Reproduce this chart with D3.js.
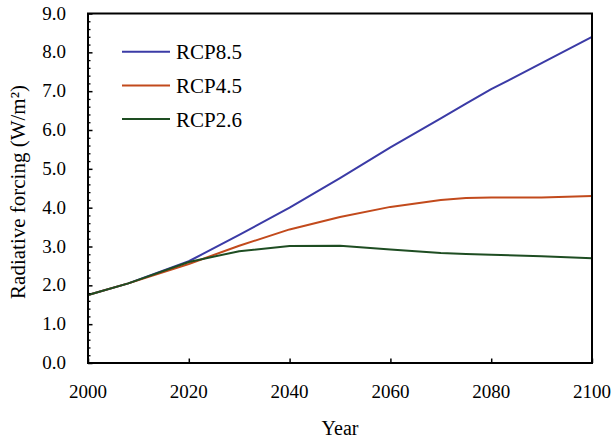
<!DOCTYPE html>
<html>
<head>
<meta charset="utf-8">
<script src="https://cdn.jsdelivr.net/npm/d3@7"></script>
<style>
  body { margin: 0; background: #fff; }
</style>
</head>
<body>
<figure id="chart" style="margin:0"></figure>
<script>
// data
const years = [2000, 2008, 2020, 2030, 2040, 2050, 2060, 2070, 2075, 2080, 2090, 2100];
const rcp85 = [1.75, 2.05, 2.62, 3.30, 4.00, 4.76, 5.55, 6.30, 6.68, 7.05, 7.72, 8.40];
const rcp45 = [1.75, 2.05, 2.55, 3.02, 3.44, 3.76, 4.02, 4.20, 4.25, 4.26, 4.26, 4.30];
const rcp26 = [1.75, 2.05, 2.60, 2.88, 3.01, 3.02, 2.92, 2.83, 2.81, 2.79, 2.75, 2.70];
const seriesNames = ['RCP8.5', 'RCP4.5', 'RCP2.6'];
const seriesColors = ['#3b3ba6', '#c24a1c', '#1e4d22'];
const xTicks = [2000, 2020, 2040, 2060, 2080, 2100];
const yTicks = [0, 1, 2, 3, 4, 5, 6, 7, 8, 9];

const width = 614, height = 441;
const margin = { top: 13.5, right: 22, bottom: 78, left: 88 };
const serif = '"Liberation Serif", "Times New Roman", serif';

const svg = d3.select('#chart')
  .append('svg')
  .attr('width', width)
  .attr('height', height)
  .style('font-family', serif);

const x = d3.scaleLinear()
  .domain([2000, 2100])
  .range([margin.left, width - margin.right]);

const y = d3.scaleLinear()
  .domain([0, 9])
  .range([height - margin.bottom, margin.top]);

// lines
const line = d3.line()
  .x((d, i) => x(years[i]))
  .y(d => y(d));

[rcp85, rcp45, rcp26].forEach((vals, k) => {
  svg.append('path')
    .datum(vals)
    .attr('fill', 'none')
    .attr('stroke', seriesColors[k])
    .attr('stroke-width', 2)
    .attr('stroke-linejoin', 'round')
    .attr('d', line);
});

// y axis: major ticks + minor ticks, inward
const yMinor = d3.range(0, 9.001, 0.2).filter(v => Math.abs(v - Math.round(v)) > 0.01);
svg.append('g')
  .attr('transform', 'translate(' + margin.left + ',0)')
  .call(d3.axisRight(y).tickValues(yMinor).tickSize(2.5).tickFormat(''))
  .call(g => g.select('.domain').remove())
  .selectAll('line').attr('stroke-width', 1.3);

svg.append('g')
  .attr('transform', 'translate(' + margin.left + ',0)')
  .call(d3.axisRight(y).tickValues(yTicks).tickSize(4.5).tickFormat(''))
  .call(g => g.select('.domain').remove())
  .selectAll('line').attr('stroke-width', 1.5);

svg.append('g')
  .selectAll('text')
  .data(yTicks)
  .enter()
  .append('text')
  .attr('x', 66)
  .attr('y', d => y(d) + 6)
  .attr('text-anchor', 'end')
  .style('font-family', serif)
  .style('font-size', '19px')
  .text(d => d.toFixed(1));

// x axis ticks, inward
svg.append('g')
  .attr('transform', 'translate(0,' + (height - margin.bottom) + ')')
  .call(d3.axisTop(x).tickValues(xTicks).tickSize(4.5).tickFormat(''))
  .call(g => g.select('.domain').remove())
  .selectAll('line').attr('stroke-width', 1.5);

svg.append('g')
  .selectAll('text')
  .data(xTicks)
  .enter()
  .append('text')
  .attr('x', d => x(d))
  .attr('y', 398)
  .attr('text-anchor', 'middle')
  .style('font-family', serif)
  .style('font-size', '19px')
  .text(d => d);

// frame
svg.append('rect')
  .attr('x', margin.left)
  .attr('y', margin.top)
  .attr('width', width - margin.left - margin.right)
  .attr('height', height - margin.top - margin.bottom)
  .attr('fill', 'none')
  .attr('stroke', '#000')
  .attr('stroke-width', 2);

// axis titles
svg.append('text')
  .attr('x', x(2050))
  .attr('y', 435)
  .attr('text-anchor', 'middle')
  .style('font-family', serif)
  .style('font-size', '20px')
  .text('Year');

svg.append('text')
  .attr('transform', 'translate(25,' + 192 + ') rotate(-90)')
  .attr('text-anchor', 'middle')
  .style('font-family', serif)
  .style('font-size', '21px')
  .text('Radiative forcing (W/m²)');

// legend
const legend = svg.append('g');
seriesNames.forEach((name, k) => {
  const ly = 51.7 + k * 33.7;
  legend.append('line')
    .attr('x1', 122).attr('x2', 170)
    .attr('y1', ly).attr('y2', ly)
    .attr('stroke', seriesColors[k])
    .attr('stroke-width', 2);
  legend.append('text')
    .attr('x', 176)
    .attr('y', ly + 7.5)
    .style('font-family', serif)
    .style('font-size', '21px')
    .text(name);
});
</script>
</body>
</html>
